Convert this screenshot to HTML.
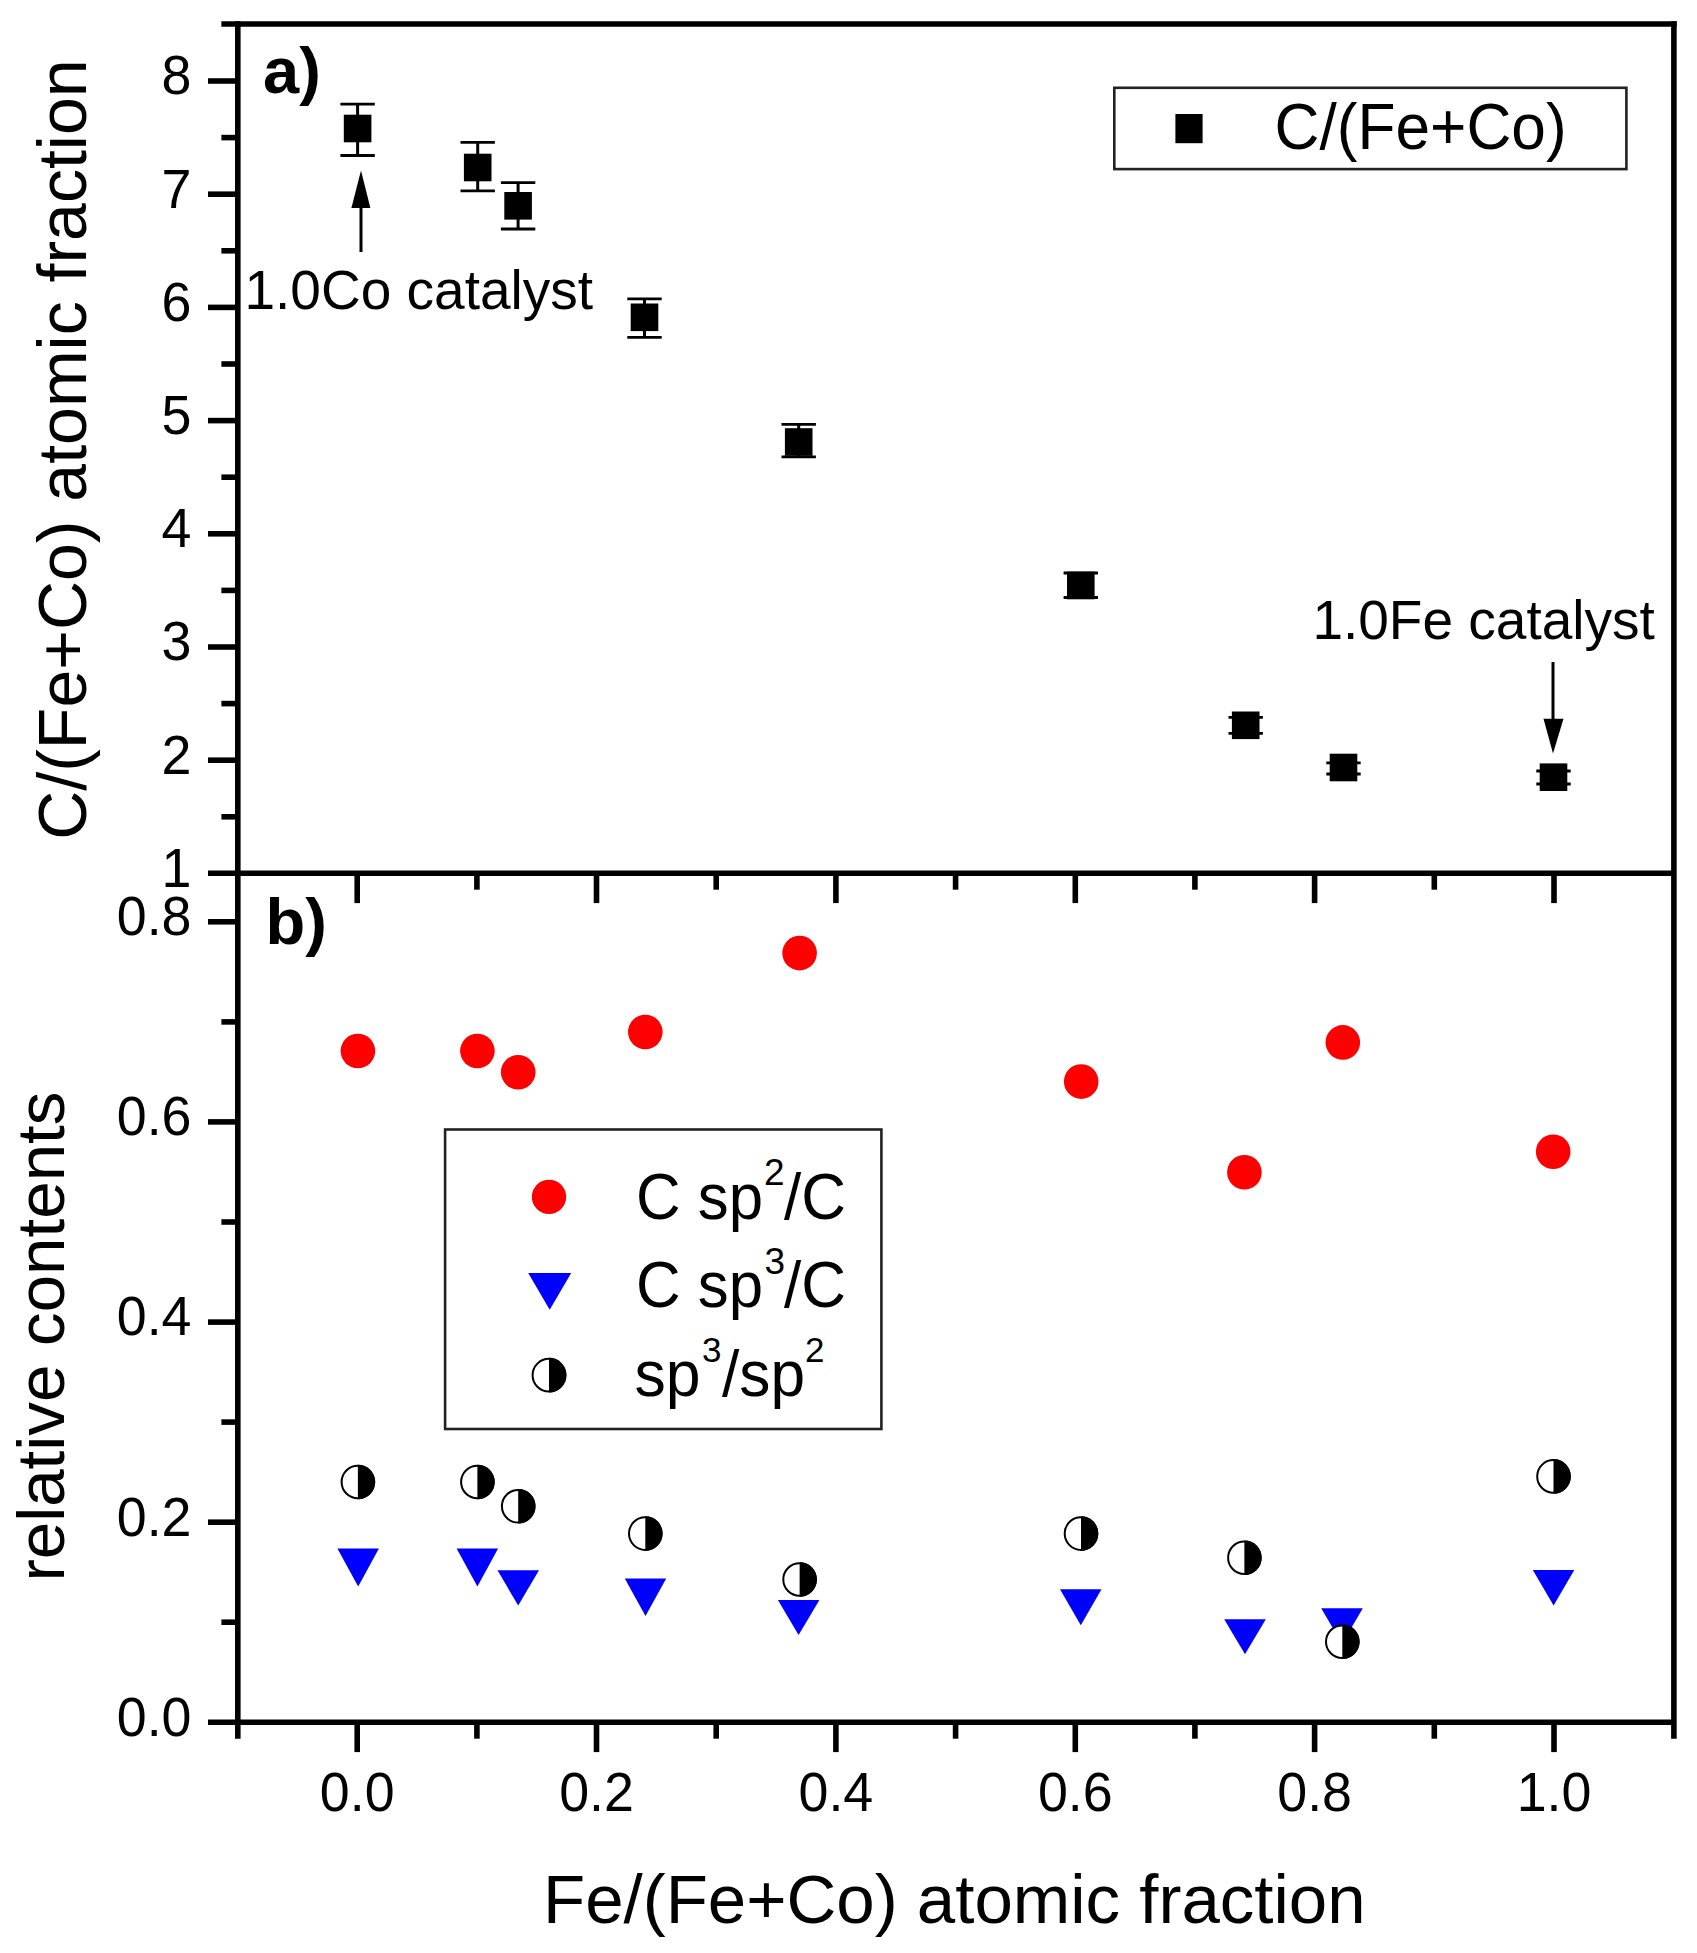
<!DOCTYPE html><html><head><meta charset="utf-8"><title>C/(Fe+Co) atomic fraction and relative contents vs Fe/(Fe+Co)</title><style>html,body{margin:0;padding:0;background:#fff;}body{width:1697px;height:1953px;overflow:hidden;}svg{display:block;}</style></head><body><svg width="1697" height="1953" viewBox="0 0 1697 1953">
<rect width="100%" height="100%" fill="#fff"/>
<g stroke="#000" stroke-width="5.6" fill="none" stroke-linecap="butt">
<line x1="221.4" y1="24.0" x2="1676.7" y2="24.0"/>
<line x1="237.8" y1="21.2" x2="237.8" y2="1738.7"/>
<line x1="1673.9" y1="21.2" x2="1673.9" y2="1738.7"/>
<line x1="208.0" y1="873.3" x2="1673.9" y2="873.3"/>
<line x1="208.0" y1="1722.3" x2="1673.9" y2="1722.3"/>
<line x1="208.0" y1="760.2" x2="237.8" y2="760.2"/>
<line x1="208.0" y1="647.0" x2="237.8" y2="647.0"/>
<line x1="208.0" y1="533.8" x2="237.8" y2="533.8"/>
<line x1="208.0" y1="420.6" x2="237.8" y2="420.6"/>
<line x1="208.0" y1="307.4" x2="237.8" y2="307.4"/>
<line x1="208.0" y1="194.2" x2="237.8" y2="194.2"/>
<line x1="208.0" y1="81.0" x2="237.8" y2="81.0"/>
<line x1="221.4" y1="816.8" x2="237.8" y2="816.8"/>
<line x1="221.4" y1="703.6" x2="237.8" y2="703.6"/>
<line x1="221.4" y1="590.4" x2="237.8" y2="590.4"/>
<line x1="221.4" y1="477.2" x2="237.8" y2="477.2"/>
<line x1="221.4" y1="364.0" x2="237.8" y2="364.0"/>
<line x1="221.4" y1="250.8" x2="237.8" y2="250.8"/>
<line x1="221.4" y1="137.6" x2="237.8" y2="137.6"/>
<line x1="221.4" y1="1622.2" x2="237.8" y2="1622.2"/>
<line x1="208.0" y1="1522.2" x2="237.8" y2="1522.2"/>
<line x1="221.4" y1="1422.1" x2="237.8" y2="1422.1"/>
<line x1="208.0" y1="1322.1" x2="237.8" y2="1322.1"/>
<line x1="221.4" y1="1222.0" x2="237.8" y2="1222.0"/>
<line x1="208.0" y1="1121.9" x2="237.8" y2="1121.9"/>
<line x1="221.4" y1="1021.9" x2="237.8" y2="1021.9"/>
<line x1="208.0" y1="921.8" x2="237.8" y2="921.8"/>
<line x1="357.2" y1="1722.3" x2="357.2" y2="1752.1"/>
<line x1="357.2" y1="873.3" x2="357.2" y2="903.1"/>
<line x1="476.9" y1="1722.3" x2="476.9" y2="1738.7"/>
<line x1="476.9" y1="873.3" x2="476.9" y2="889.7"/>
<line x1="596.5" y1="1722.3" x2="596.5" y2="1752.1"/>
<line x1="596.5" y1="873.3" x2="596.5" y2="903.1"/>
<line x1="716.2" y1="1722.3" x2="716.2" y2="1738.7"/>
<line x1="716.2" y1="873.3" x2="716.2" y2="889.7"/>
<line x1="835.9" y1="1722.3" x2="835.9" y2="1752.1"/>
<line x1="835.9" y1="873.3" x2="835.9" y2="903.1"/>
<line x1="955.6" y1="1722.3" x2="955.6" y2="1738.7"/>
<line x1="955.6" y1="873.3" x2="955.6" y2="889.7"/>
<line x1="1075.3" y1="1722.3" x2="1075.3" y2="1752.1"/>
<line x1="1075.3" y1="873.3" x2="1075.3" y2="903.1"/>
<line x1="1194.9" y1="1722.3" x2="1194.9" y2="1738.7"/>
<line x1="1194.9" y1="873.3" x2="1194.9" y2="889.7"/>
<line x1="1314.6" y1="1722.3" x2="1314.6" y2="1752.1"/>
<line x1="1314.6" y1="873.3" x2="1314.6" y2="903.1"/>
<line x1="1434.3" y1="1722.3" x2="1434.3" y2="1738.7"/>
<line x1="1434.3" y1="873.3" x2="1434.3" y2="889.7"/>
<line x1="1554.0" y1="1722.3" x2="1554.0" y2="1752.1"/>
<line x1="1554.0" y1="873.3" x2="1554.0" y2="903.1"/>
</g>
<g font-family='"Liberation Sans", Arial, sans-serif' font-size="56" fill="#000">
<text transform="translate(191.5,886.7) scale(0.96,1)" text-anchor="end">1</text>
<text transform="translate(191.5,773.5) scale(0.96,1)" text-anchor="end">2</text>
<text transform="translate(191.5,660.3) scale(0.96,1)" text-anchor="end">3</text>
<text transform="translate(191.5,547.1) scale(0.96,1)" text-anchor="end">4</text>
<text transform="translate(191.5,433.9) scale(0.96,1)" text-anchor="end">5</text>
<text transform="translate(191.5,320.7) scale(0.96,1)" text-anchor="end">6</text>
<text transform="translate(191.5,207.5) scale(0.96,1)" text-anchor="end">7</text>
<text transform="translate(191.5,94.3) scale(0.96,1)" text-anchor="end">8</text>
<text transform="translate(191.5,1735.6) scale(0.96,1)" text-anchor="end">0.0</text>
<text transform="translate(191.5,1535.5) scale(0.96,1)" text-anchor="end">0.2</text>
<text transform="translate(191.5,1335.4) scale(0.96,1)" text-anchor="end">0.4</text>
<text transform="translate(191.5,1135.2) scale(0.96,1)" text-anchor="end">0.6</text>
<text transform="translate(191.5,935.1) scale(0.96,1)" text-anchor="end">0.8</text>
<text transform="translate(357.2,1811.0) scale(0.96,1)" text-anchor="middle">0.0</text>
<text transform="translate(596.5,1811.0) scale(0.96,1)" text-anchor="middle">0.2</text>
<text transform="translate(835.9,1811.0) scale(0.96,1)" text-anchor="middle">0.4</text>
<text transform="translate(1075.3,1811.0) scale(0.96,1)" text-anchor="middle">0.6</text>
<text transform="translate(1314.6,1811.0) scale(0.96,1)" text-anchor="middle">0.8</text>
<text transform="translate(1554.0,1811.0) scale(0.96,1)" text-anchor="middle">1.0</text>
</g>
<g font-family='"Liberation Sans", Arial, sans-serif' fill="#000">
<text x="543" y="1923" font-size="69">Fe/(Fe+Co) atomic fraction</text>
<text transform="translate(85.7,839.8) rotate(-90)" font-size="68">C/(Fe+Co) atomic fraction</text>
<text transform="translate(63.9,1581.6) rotate(-90)" font-size="67.3">relative contents</text>
<text x="263" y="93" font-size="65" font-weight="bold">a)</text>
<text x="265.5" y="944" font-size="65" font-weight="bold">b)</text>
<text x="244.5" y="308.5" font-size="55">1.0Co catalyst</text>
<text x="1312.4" y="639" font-size="55">1.0Fe catalyst</text>
</g>
<g fill="#000" stroke="none">
<rect x="359.5" y="205" width="3" height="47"/>
<polygon points="361,170.6 351.4,208 370.4,208"/>
<rect x="1551.5" y="662" width="3" height="58"/>
<polygon points="1553,753.5 1543.5,718.7 1563.5,718.7"/>
</g>
<g fill="#000" stroke="#000">
<line x1="357.6" y1="104.1" x2="357.6" y2="155.5" stroke-width="3"/>
<line x1="340.4" y1="104.1" x2="374.8" y2="104.1" stroke-width="2.8"/>
<line x1="340.4" y1="155.5" x2="374.8" y2="155.5" stroke-width="2.8"/>
<rect x="343.8" y="114.7" width="27.6" height="27.6" stroke="none"/>
<line x1="477.7" y1="142.3" x2="477.7" y2="190.8" stroke-width="3"/>
<line x1="460.5" y1="142.3" x2="494.9" y2="142.3" stroke-width="2.8"/>
<line x1="460.5" y1="190.8" x2="494.9" y2="190.8" stroke-width="2.8"/>
<rect x="463.9" y="153.7" width="27.6" height="27.6" stroke="none"/>
<line x1="518.1" y1="182.6" x2="518.1" y2="229.0" stroke-width="3"/>
<line x1="500.9" y1="182.6" x2="535.3" y2="182.6" stroke-width="2.8"/>
<line x1="500.9" y1="229.0" x2="535.3" y2="229.0" stroke-width="2.8"/>
<rect x="504.3" y="192.0" width="27.6" height="27.6" stroke="none"/>
<line x1="644.5" y1="298.9" x2="644.5" y2="337.3" stroke-width="3"/>
<line x1="627.3" y1="298.9" x2="661.7" y2="298.9" stroke-width="2.8"/>
<line x1="627.3" y1="337.3" x2="661.7" y2="337.3" stroke-width="2.8"/>
<rect x="630.7" y="303.5" width="27.6" height="27.6" stroke="none"/>
<line x1="798.7" y1="424.3" x2="798.7" y2="456.8" stroke-width="3"/>
<line x1="781.5" y1="424.3" x2="815.9" y2="424.3" stroke-width="2.8"/>
<line x1="781.5" y1="456.8" x2="815.9" y2="456.8" stroke-width="2.8"/>
<rect x="784.9" y="428.2" width="27.6" height="27.6" stroke="none"/>
<line x1="1080.8" y1="573.0" x2="1080.8" y2="597.5" stroke-width="3"/>
<line x1="1063.6" y1="573.0" x2="1098.0" y2="573.0" stroke-width="2.8"/>
<line x1="1063.6" y1="597.5" x2="1098.0" y2="597.5" stroke-width="2.8"/>
<rect x="1067.0" y="571.7" width="27.6" height="27.6" stroke="none"/>
<line x1="1245.7" y1="717.3" x2="1245.7" y2="733.3" stroke-width="3"/>
<line x1="1228.5" y1="717.3" x2="1262.9" y2="717.3" stroke-width="2.8"/>
<line x1="1228.5" y1="733.3" x2="1262.9" y2="733.3" stroke-width="2.8"/>
<rect x="1231.9" y="711.5" width="27.6" height="27.6" stroke="none"/>
<line x1="1343.5" y1="762.8" x2="1343.5" y2="774.0" stroke-width="3"/>
<line x1="1326.3" y1="762.8" x2="1360.7" y2="762.8" stroke-width="2.8"/>
<line x1="1326.3" y1="774.0" x2="1360.7" y2="774.0" stroke-width="2.8"/>
<rect x="1329.7" y="753.7" width="27.6" height="27.6" stroke="none"/>
<line x1="1553.5" y1="771.0" x2="1553.5" y2="784.0" stroke-width="3"/>
<line x1="1536.3" y1="771.0" x2="1570.7" y2="771.0" stroke-width="2.8"/>
<line x1="1536.3" y1="784.0" x2="1570.7" y2="784.0" stroke-width="2.8"/>
<rect x="1539.7" y="763.4" width="27.6" height="27.6" stroke="none"/>
</g>
<circle cx="357.9" cy="1051" r="17.3" fill="#f00"/>
<circle cx="477.4" cy="1051" r="17.3" fill="#f00"/>
<circle cx="518.2" cy="1072.2" r="17.3" fill="#f00"/>
<circle cx="645.3" cy="1032" r="17.3" fill="#f00"/>
<circle cx="799.6" cy="953.1" r="17.3" fill="#f00"/>
<circle cx="1081.2" cy="1081.6" r="17.3" fill="#f00"/>
<circle cx="1244.4" cy="1172.3" r="17.3" fill="#f00"/>
<circle cx="1342.8" cy="1042.4" r="17.3" fill="#f00"/>
<circle cx="1553.2" cy="1151.7" r="17.3" fill="#f00"/>
<polygon points="337.4,1548.6 378.9,1548.6 358.2,1586.5" fill="#00f"/>
<polygon points="456.6,1548.6 498.1,1548.6 477.4,1586.5" fill="#00f"/>
<polygon points="497.5,1570.2 539.0,1570.2 518.2,1605.6" fill="#00f"/>
<polygon points="624.8,1578.5 666.2,1578.5 645.5,1616.0" fill="#00f"/>
<polygon points="777.9,1600.1 819.4,1600.1 798.6,1635.0" fill="#00f"/>
<polygon points="1060.0,1589.2 1101.5,1589.2 1080.8,1625.2" fill="#00f"/>
<polygon points="1224.2,1619.2 1265.8,1619.2 1245.0,1654.3" fill="#00f"/>
<polygon points="1321.2,1608.2 1362.8,1608.2 1342.0,1643.8" fill="#00f"/>
<polygon points="1532.8,1570.0 1574.3,1570.0 1553.6,1605.4" fill="#00f"/>
<circle cx="357.9" cy="1482.0" r="16.3" fill="#fff" stroke="#000" stroke-width="2"/><path d="M357.9,1464.7 A17.3,17.3 0 0 1 357.9,1499.3 Z" fill="#000"/>
<circle cx="477.4" cy="1482.0" r="16.3" fill="#fff" stroke="#000" stroke-width="2"/><path d="M477.4,1464.7 A17.3,17.3 0 0 1 477.4,1499.3 Z" fill="#000"/>
<circle cx="518.2" cy="1506.3" r="16.3" fill="#fff" stroke="#000" stroke-width="2"/><path d="M518.2,1489.0 A17.3,17.3 0 0 1 518.2,1523.6 Z" fill="#000"/>
<circle cx="645.3" cy="1533.6" r="16.3" fill="#fff" stroke="#000" stroke-width="2"/><path d="M645.3,1516.3 A17.3,17.3 0 0 1 645.3,1550.9 Z" fill="#000"/>
<circle cx="799.6" cy="1579.5" r="16.3" fill="#fff" stroke="#000" stroke-width="2"/><path d="M799.6,1562.2 A17.3,17.3 0 0 1 799.6,1596.8 Z" fill="#000"/>
<circle cx="1081.0" cy="1533.6" r="16.3" fill="#fff" stroke="#000" stroke-width="2"/><path d="M1081.0,1516.3 A17.3,17.3 0 0 1 1081.0,1550.9 Z" fill="#000"/>
<circle cx="1244.4" cy="1557.8" r="16.3" fill="#fff" stroke="#000" stroke-width="2"/><path d="M1244.4,1540.5 A17.3,17.3 0 0 1 1244.4,1575.1 Z" fill="#000"/>
<circle cx="1342.3" cy="1641.7" r="16.3" fill="#fff" stroke="#000" stroke-width="2"/><path d="M1342.3,1624.4 A17.3,17.3 0 0 1 1342.3,1659.0 Z" fill="#000"/>
<circle cx="1553.5" cy="1476.4" r="16.3" fill="#fff" stroke="#000" stroke-width="2"/><path d="M1553.5,1459.1 A17.3,17.3 0 0 1 1553.5,1493.7 Z" fill="#000"/>
<rect x="1114.3" y="87.8" width="512.1" height="81.3" fill="none" stroke="#222" stroke-width="2.6"/>
<rect x="1175.4" y="114" width="27.2" height="29.2" fill="#000"/>
<text x="1274.6" y="149.4" font-family='"Liberation Sans", Arial, sans-serif' font-size="64" textLength="292" lengthAdjust="spacingAndGlyphs">C/(Fe+Co)</text>
<rect x="445.1" y="1129.5" width="436.3" height="299.5" fill="none" stroke="#222" stroke-width="2.6"/>
<circle cx="549" cy="1196.9" r="17.2" fill="#f00"/>
<polygon points="528.2,1272.9 571.2,1272.9 549.7,1309.7" fill="#00f"/>
<circle cx="549.0" cy="1375.2" r="16.4" fill="#fff" stroke="#000" stroke-width="2"/><path d="M549.0,1357.8 A17.4,17.4 0 0 1 549.0,1392.6 Z" fill="#000"/>
<g font-family='"Liberation Sans", Arial, sans-serif' fill="#000">
<text x="636" y="1218.7" font-size="64" textLength="127" lengthAdjust="spacingAndGlyphs">C sp</text>
<text x="764" y="1185" font-size="37">2</text>
<text x="784" y="1218.7" font-size="64" textLength="62" lengthAdjust="spacingAndGlyphs">/C</text>
<text x="636" y="1306.6" font-size="64" textLength="127" lengthAdjust="spacingAndGlyphs">C sp</text>
<text x="764.5" y="1273.8" font-size="37">3</text>
<text x="784" y="1306.6" font-size="64" textLength="62" lengthAdjust="spacingAndGlyphs">/C</text>
<text x="634.5" y="1395.8" font-size="64" textLength="66" lengthAdjust="spacingAndGlyphs">sp</text>
<text x="702" y="1361.5" font-size="35">3</text>
<text x="722" y="1395.8" font-size="64" textLength="83" lengthAdjust="spacingAndGlyphs">/sp</text>
<text x="805" y="1361.5" font-size="35">2</text>
</g>
</svg></body></html>
